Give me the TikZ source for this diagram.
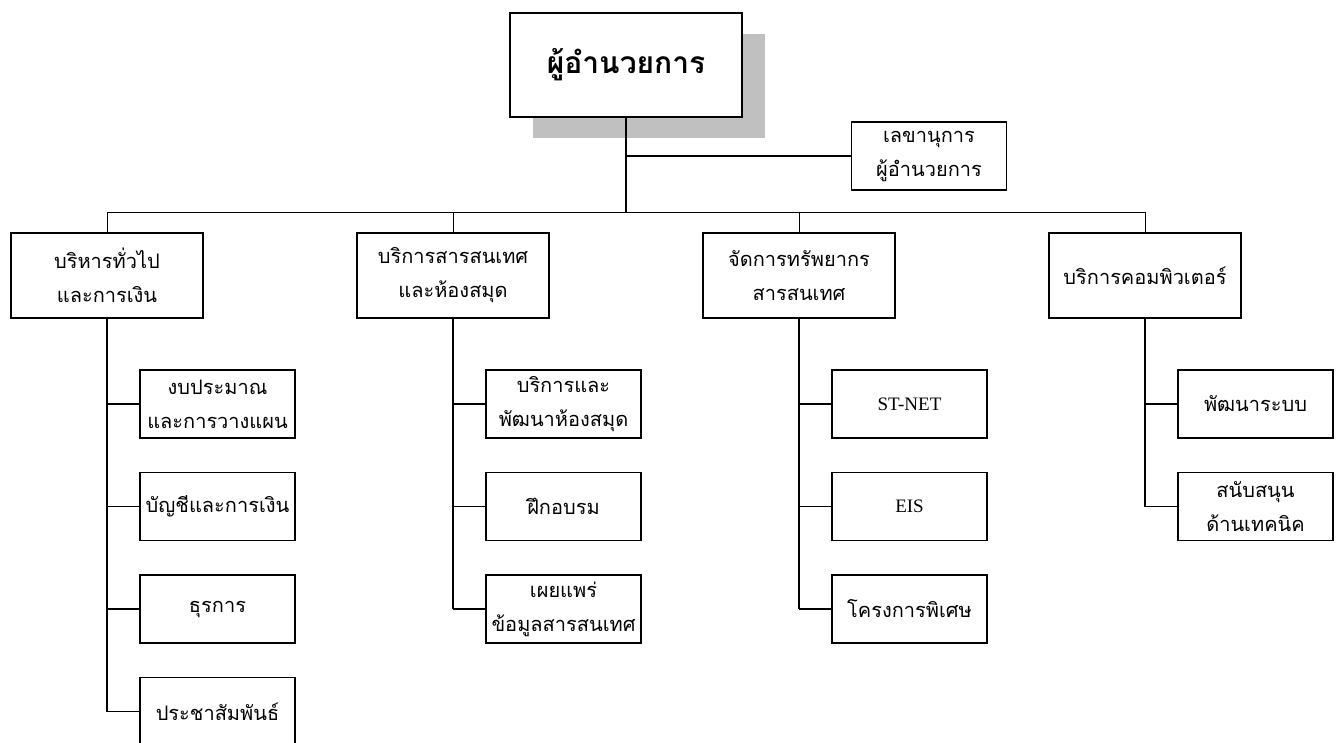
\documentclass[tikz,border=0pt]{standalone}
\usepackage{fontspec}
\setmainfont{Liberation Serif}
\newfontfamily\thaifont[Script=Thai]{Loma}
\usetikzlibrary{shadows}
\definecolor{shadowgray}{RGB}{192,192,192}

\tikzset{
unit/.style={draw, line width=1.3pt, fill=white, align=center, inner sep=0pt,
  font=\thaifont\fontsize{20}{34}\selectfont}, % khung chung
chief/.style={unit, minimum width=232pt, minimum height=104pt,
  font=\thaifont\bfseries\fontsize{30}{36}\selectfont,
  drop shadow={shadow xshift=23pt, shadow yshift=-21pt, fill=shadowgray, opacity=1}}, % hop giam doc
dept/.style={unit, minimum width=192pt, minimum height=85pt}, % cap 2
sect/.style={unit, minimum width=155pt, minimum height=68pt}, % cap 3
latin/.style={font=\rmfamily\fontsize{19}{22}\selectfont},
link/.style={line width=1.3pt},
bus/.style={line width=0.8pt}
}

\begin{document}
\begin{tikzpicture}[x=1pt,y=-1pt]
\clip (0,0) rectangle (1340,742); % khung hinh

\node[chief] (dir) at (626,65) {ผู้อำนวยการ};
\node[sect] (sec) at (929,156) {เลขานุการ\\ผู้อำนวยการ};
\coordinate (hub) at (626,212);

% cap 2
\node[dept] (admin) at (107,275.5) {บริหารทั่วไป\\และการเงิน};
\node[dept] (info) at (453,275.5) {บริการสารสนเทศ\\และห้องสมุด};
\node[dept] (res) at (799,275.5) {จัดการทรัพยากร\\สารสนเทศ};
\node[dept] (comp) at (1145,275.5) {บริการคอมพิวเตอร์};

% cap 3
\node[sect] (budget) at (217.5,404) {งบประมาณ\\และการวางแผน};
\node[sect] (account) at (217.5,506.5) {บัญชีและการเงิน};
\node[sect] (office) at (217.5,609) {ธุรการ};
\node[sect] (pr) at (217.5,711.5) {ประชาสัมพันธ์};

\node[sect] (libdev) at (563.5,404) {บริการและ\\พัฒนาห้องสมุด};
\node[sect] (train) at (563.5,506.5) {ฝึกอบรม};
\node[sect] (publish) at (563.5,609) {เผยแพร่\\ข้อมูลสารสนเทศ};

\node[sect,latin] (stnet) at (909.5,404) {ST-NET};
\node[sect,latin] (eis) at (909.5,506.5) {EIS};
\node[sect] (special) at (909.5,609) {โครงการพิเศษ};

\node[sect] (sysdev) at (1255.5,404) {พัฒนาระบบ};
\node[sect] (support) at (1255.5,506.5) {สนับสนุน\\ด้านเทคนิค};

% duong noi
\draw[link] (dir.south) -- (hub);
\draw[link] (dir.south |- sec.west) -- (sec.west);
\draw[bus] (admin.north |- hub) -- (comp.north |- hub);
\foreach \d in {admin,info,res,comp}
  \draw[bus] (\d.north) -- (\d.north |- hub);

\draw[link] (admin.south) -- (admin.south |- pr.west);
\foreach \s in {budget,account,office,pr}
  \draw[link] (admin.south |- \s.west) -- (\s.west);
\draw[link] (info.south) -- (info.south |- publish.west);
\foreach \s in {libdev,train,publish}
  \draw[link] (info.south |- \s.west) -- (\s.west);
\draw[link] (res.south) -- (res.south |- special.west);
\foreach \s in {stnet,eis,special}
  \draw[link] (res.south |- \s.west) -- (\s.west);
\draw[link] (comp.south) -- (comp.south |- support.west);
\foreach \s in {sysdev,support}
  \draw[link] (comp.south |- \s.west) -- (\s.west);
\end{tikzpicture}
\end{document}
